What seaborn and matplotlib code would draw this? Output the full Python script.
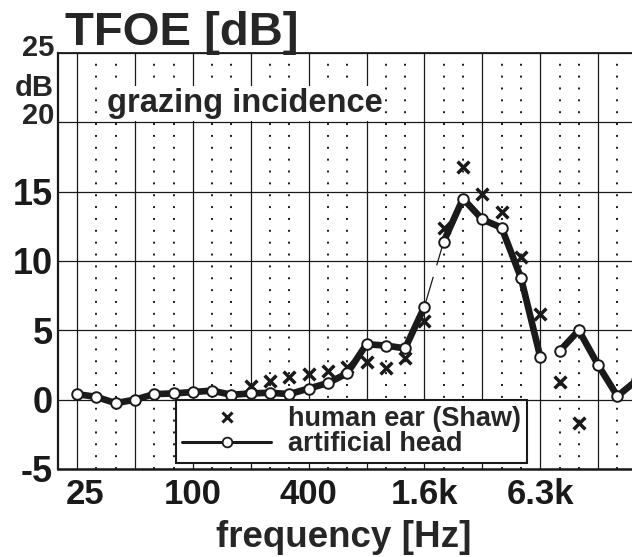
import matplotlib
matplotlib.use("Agg")
import numpy as np
import pandas as pd
import seaborn as sns
import matplotlib.pyplot as plt
from matplotlib.lines import Line2D
from matplotlib.transforms import ScaledTranslation

# ---------------- data ----------------
bands = ["25", "31.5", "40", "50", "63", "80", "100", "125", "160", "200",
         "250", "315", "400", "500", "630", "800", "1k", "1.25k", "1.6k", "2k",
         "2.5k", "3.15k", "4k", "5k", "6.3k", "8k", "10k", "12.5k", "16k", "20k"]
artificial_head = [0.4, 0.2, -0.25, 0.0, 0.4, 0.45, 0.55, 0.65, 0.35, 0.45,
                   0.5, 0.4, 0.8, 1.2, 1.9, 4.0, 3.9, 3.7, 6.7, 11.4,
                   14.5, 13.0, 12.4, 8.8, 3.1, 3.5, 5.0, 2.5, 0.25, 1.4]
human_ear = [np.nan] * 9 + [1.0, 1.35, 1.6, 1.85, 2.05, 2.35, 2.7, 2.3, 3.0, 5.7,
                            12.4, 16.8, 14.85, 13.5, 10.3, 6.15, 1.3, -1.7,
                            np.nan, np.nan, np.nan]
line_segment = [0] * 19 + [1] * 6 + [2] * 5
labeled_bands = ["25", "100", "400", "1.6k", "6.3k"]
octave_bands = bands[::3]

df = pd.DataFrame({"pos": np.arange(len(bands)), "band": bands,
                   "artificial": artificial_head, "human": human_ear,
                   "segment": line_segment})

# ---------------- style ----------------
sns.set_theme(style="white")
plt.rcParams["font.family"] = ["Liberation Sans", "DejaVu Sans"]
plt.rcParams["font.weight"] = "bold"

W, H = 632, 557
fig = plt.figure(figsize=(W / 100, H / 100), dpi=100)
step = 19.3
x0_px = 77 - step
ax = fig.add_axes([x0_px / W, (H - 469) / H, (30.5 * step) / W, 416 / H])
ax.set_xlim(-1, 29.5)
ax.set_ylim(-5, 25)

# grid
major_pos = df.loc[df["band"].isin(octave_bands), "pos"].values
minor_pos = df.loc[~df["band"].isin(octave_bands), "pos"].values
ax.set_xticks(major_pos)
ax.set_xticks(minor_pos, minor=True)
ax.set_xticklabels([b if b in labeled_bands else "" for b in octave_bands])
ax.set_yticks(np.arange(-5, 26, 5))
ax.set_yticklabels(["-5", "0", "5", "10", "15", "", ""])
ax.grid(which="major", axis="x", color="k", lw=0.9, ls="-")
ax.grid(which="minor", axis="x", color="k", lw=1.4, ls=(0, (1, 5.1)))
ax.grid(which="major", axis="y", color="k", lw=0.9, ls="-")
ax.set_axisbelow(True)

ax.tick_params(axis="x", which="major", direction="in", length=4, width=1,
               pad=6.5, labelsize=25, colors="k")
ax.tick_params(axis="x", which="minor", direction="in", length=3, width=1)
ax.tick_params(axis="y", length=0, pad=3.5, labelsize=26, colors="k")
for lab in ax.get_xticklabels():
    lab.set_fontweight("bold")
    if lab.get_text() == "25":
        lab.set_transform(lab.get_transform() + ScaledTranslation(0.08, 0, fig.dpi_scale_trans))
for lab in ax.get_yticklabels():
    lab.set_fontweight("bold")

for s in ["left", "bottom", "top"]:
    ax.spines[s].set_visible(True)
    ax.spines[s].set_color("k")
ax.spines["left"].set_linewidth(1.6)
ax.spines["bottom"].set_linewidth(1.8)
ax.spines["top"].set_linewidth(1.3)
ax.spines["right"].set_visible(False)

# ---------------- marks ----------------
sns.lineplot(data=df, x="pos", y="artificial", units="segment", estimator=None,
             color="k", lw=4.8, ax=ax, legend=False, sort=False, zorder=3)
gap = df.iloc[18:20]
ax.plot(gap["pos"], gap["artificial"], color="k", lw=0.9, ls=(0, (25, 9.6)), zorder=3)
sns.scatterplot(data=df, x="pos", y="human", marker="x", s=72, color="k",
                linewidth=2.5, ax=ax, legend=False, zorder=4)
sns.scatterplot(data=df, x="pos", y="artificial", marker="o", s=58,
                facecolor="white", edgecolor="k", linewidth=1.4, ax=ax,
                legend=False, zorder=5)
ax.set_xlabel("")
ax.set_ylabel("")

# legend
handles = [Line2D([], [], marker="x", ls="none", color="k", markersize=7, mew=2.2),
           Line2D([], [], color="k", lw=2.2, marker="o", mfc="white", mec="k",
                  markersize=7, mew=1.3)]
leg = ax.legend(handles, ["human ear (Shaw)", "artificial head"],
                loc="lower left", bbox_to_anchor=((176 - x0_px) / (30.5 * step), 6 / 416),
                borderaxespad=0, fontsize=19.5, frameon=True, fancybox=False,
                edgecolor="k", framealpha=1, borderpad=0.22, handlelength=3.3,
                handletextpad=0.62, labelspacing=-0.05)
leg.get_frame().set_linewidth(1.5)
leg.set_zorder(10)
for t in leg.get_texts():
    t.set_fontweight("bold")

# ---------------- texts ----------------
fig.text(65 / W, (H - 45) / H, "TFOE [dB]", fontsize=34, fontweight="bold",
         ha="left", va="baseline")
fig.text(107 / W, (H - 112) / H, "grazing incidence", fontsize=23.5,
         fontweight="bold", ha="left", va="baseline",
         bbox=dict(facecolor="white", edgecolor="none", pad=1.5))
for txt, yc in [("25", 48), ("dB", 88), ("20", 116)]:
    fig.text(54 / W, (H - yc) / H, txt, fontsize=21, fontweight="bold",
             ha="right", va="center")
fig.text(344 / W, (H - 547) / H, "frequency [Hz]", fontsize=26.5,
         fontweight="bold", ha="center", va="baseline")

fig.savefig("out.png", dpi=100)
